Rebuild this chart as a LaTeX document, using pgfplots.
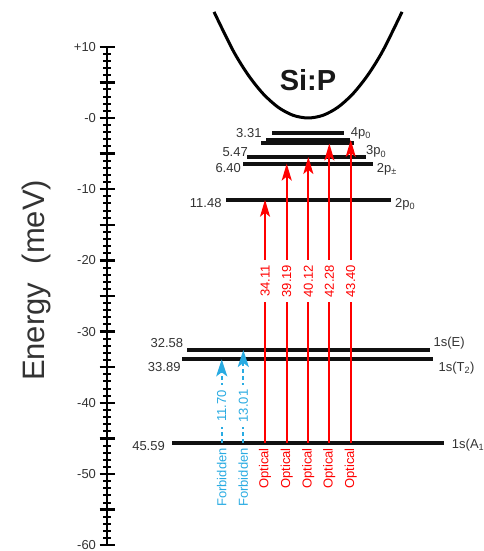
\documentclass[border=0pt]{standalone}
\usepackage{fontspec}
\setmainfont{Liberation Sans}
\usepackage{pgfplots}
\pgfplotsset{compat=1.18}
\usetikzlibrary{arrows.meta}
\definecolor{txt}{HTML}{333333}
\definecolor{ared}{HTML}{FF0000}
\definecolor{ablue}{HTML}{29ABE2}
\definecolor{lvl}{HTML}{111111}
\newcommand{\lf}{\fontsize{13}{15}\selectfont}
\begin{document}
\begin{tikzpicture}
\begin{axis}[
  x=1pt, y=7.12pt,
  xmin=107, xmax=483, ymin=-60, ymax=10,
  clip=false,
  axis x line=none,
  axis y line*=left,
  axis line style={line width=2.4pt, black},
  xtick=\empty,
  ytick={-60,-55,...,10},
  yticklabels={-60,,-50,,-40,,-30,,-20,,-10,,-0,,+10},
  minor y tick num=4,
  tick align=center,
  major tick length=15pt,
  minor tick length=8pt,
  every major tick/.style={line width=2.4pt, black},
  every minor tick/.style={line width=2pt, black},
  yticklabel style={font=\lf, text=txt},
  lev/.style={lvl, line width=4pt, forget plot},
  rarr/.style={ared, line width=2pt, -{Stealth[length=17pt, width=10pt, inset=4pt]}, forget plot},
  barr/.style={ablue, line width=2pt, dash pattern=on 4pt off 3pt, -{Stealth[length=17pt, width=11pt, inset=4pt]}, forget plot},
]
% parabola
\addplot[black, line width=3pt, smooth, forget plot] coordinates {(214,14.9) (233,9.486) (248,6.071) (263,3.415) (278,1.517) (293,0.379) (308,0) (323,0.379) (338,1.517) (353,3.415) (368,6.071) (383,9.486) (402,14.9)};
% energy levels
\addplot[lev] coordinates {(172,-45.59) (444,-45.59)};
\addplot[lev] coordinates {(182,-33.89) (433,-33.89)};
\addplot[lev] coordinates {(187,-32.58) (430,-32.58)};
\addplot[lev] coordinates {(226,-11.48) (391,-11.48)};
\addplot[lev] coordinates {(243,-6.40) (373,-6.40)};
\addplot[lev] coordinates {(247,-5.47) (366,-5.47)};
\addplot[lev] coordinates {(261,-3.58) (354,-3.58)};
\addplot[lev] coordinates {(266,-3.07) (350,-3.07)};
\addplot[lev] coordinates {(272,-2.05) (344,-2.05)};
% optical transitions
\addplot[rarr] coordinates {(265,-45.59) (265,-11.48)};
\addplot[rarr] coordinates {(286.7,-45.59) (286.7,-6.40)};
\addplot[rarr] coordinates {(308.3,-45.59) (308.3,-5.47)};
\addplot[rarr] coordinates {(329.3,-45.59) (329.3,-3.58)};
\addplot[rarr] coordinates {(350.7,-45.59) (350.7,-3.07)};
% forbidden transitions
\addplot[barr] coordinates {(221.7,-45.59) (221.7,-33.89)};
\addplot[barr] coordinates {(243.3,-45.59) (243.3,-32.58)};
% transition energies
\begin{scope}[every node/.style={rotate=90, fill=white, inner xsep=5pt, inner ysep=1pt, font=\lf}]
\node[text=ared] at (axis cs:265,-22.9) {34.11};
\node[text=ared] at (axis cs:286.7,-22.9) {39.19};
\node[text=ared] at (axis cs:308.3,-22.9) {40.12};
\node[text=ared] at (axis cs:329.3,-22.9) {42.28};
\node[text=ared] at (axis cs:350.7,-22.9) {43.40};
\node[text=ablue] at (axis cs:221.7,-40.45) {11.70};
\node[text=ablue] at (axis cs:243.3,-40.45) {13.01};
\end{scope}
\begin{scope}[every node/.style={rotate=90, anchor=east, inner sep=0pt, font=\lf}]
\node[text=ablue] at (axis cs:221.7,-46.35) {Forbidden};
\node[text=ablue] at (axis cs:243.3,-46.35) {Forbidden};
\node[text=ared] at (axis cs:265,-46.35) {Optical};
\node[text=ared] at (axis cs:286.7,-46.35) {Optical};
\node[text=ared] at (axis cs:308.3,-46.35) {Optical};
\node[text=ared] at (axis cs:329.3,-46.35) {Optical};
\node[text=ared] at (axis cs:350.7,-46.35) {Optical};
\end{scope}
% level values
\begin{scope}[every node/.style={anchor=east, inner sep=0pt, font=\lf, text=txt}]
\node at (axis cs:261.7,-2.06) {3.31};
\node at (axis cs:248,-4.73) {5.47};
\node at (axis cs:241,-6.98) {6.40};
\node at (axis cs:221.7,-11.94) {11.48};
\node at (axis cs:183.3,-31.64) {32.58};
\node at (axis cs:180.7,-35.0) {33.89};
\node at (axis cs:165,-46.0) {45.59};
\end{scope}
% level names
\begin{scope}[every node/.style={anchor=west, inner sep=0pt, font=\lf, text=txt}]
\node at (axis cs:350.7,-2.14) {4p\textsubscript{0}};
\node at (axis cs:366,-4.73) {3p\textsubscript{0}};
\node at (axis cs:376.7,-7.21) {2p\textsubscript{±}};
\node at (axis cs:395,-12.1) {2p\textsubscript{0}};
\node at (axis cs:433.3,-31.6) {1s(E)};
\node at (axis cs:438.3,-35.15) {1s(T\textsubscript{2})};
\node at (axis cs:451.7,-45.9) {1s(A\textsubscript{1})};
\end{scope}
\node[font=\fontsize{29}{32}\selectfont\bfseries, text=black!90] at (axis cs:308,5.34) {Si:P};
\node[rotate=90, font=\fontsize{31}{34}\selectfont, text=txt] at (axis cs:36,-22.8) {Energy\hspace{0.6em}(meV)};
\coordinate (bbsw) at (axis cs:0,-60.81);
\coordinate (bbne) at (axis cs:483,16.57);
\end{axis}
\pgfresetboundingbox
\path[use as bounding box] (bbsw) rectangle (bbne);
\end{tikzpicture}
\end{document}
